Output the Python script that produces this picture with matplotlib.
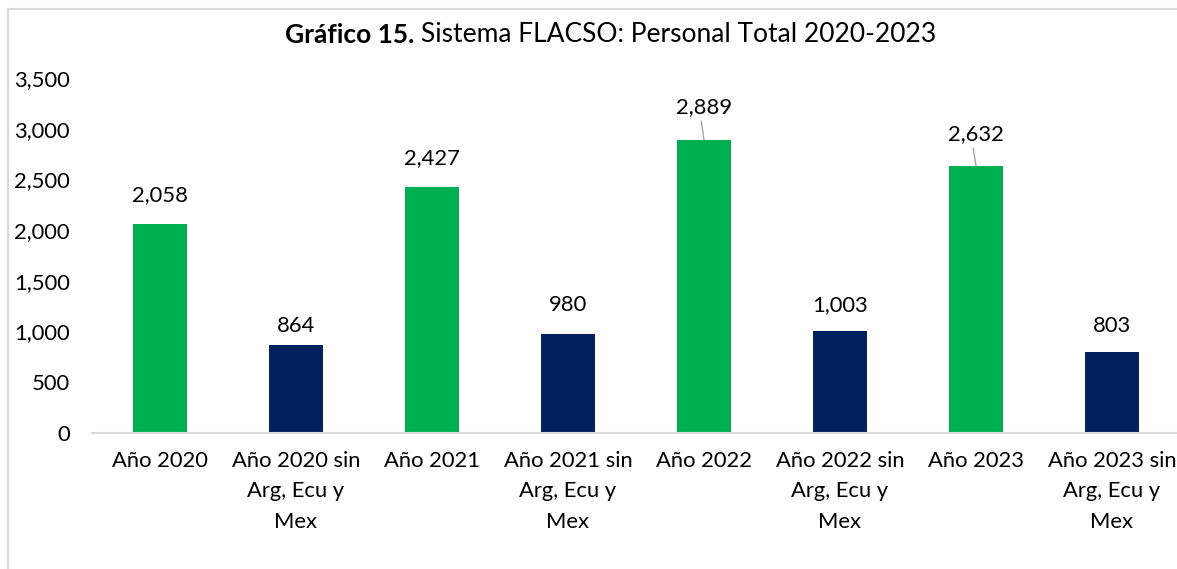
import matplotlib.pyplot as plt
from matplotlib.patches import Rectangle

plt.rcParams['font.family'] = ['Lato', 'DejaVu Sans']

categories = ['Año 2020', 'Año 2020 sin\nArg, Ecu y\nMex', 'Año 2021', 'Año 2021 sin\nArg, Ecu y\nMex',
              'Año 2022', 'Año 2022 sin\nArg, Ecu y\nMex', 'Año 2023', 'Año 2023 sin\nArg, Ecu y\nMex']
values = [2058, 864, 2427, 980, 2889, 1003, 2632, 803]
label_offsets = [288, 191, 284, 282, 325, 259, 316, 252]

green = '#00B050'
navy = '#002060'
colors = [green if i % 2 == 0 else navy for i in range(len(values))]

fig = plt.figure(figsize=(11.77, 5.69), dpi=100)
ax = fig.add_axes([92 / 1177, 136 / 569, 1088 / 1177, 355 / 569])

x = list(range(len(values)))
ax.bar(x, values, width=0.4, color=colors, zorder=2)

fs = 15.8
for i, v in enumerate(values):
    ly = v + label_offsets[i]
    ax.text(i, ly, f'{v:,}', ha='center', va='center', fontsize=fs, color='black')
    # leader lines for the labels that were dragged up
    if label_offsets[i] > 300:
        ax.plot([i - 0.02, i], [ly - 140, v], color='#A6A6A6', lw=1, zorder=1)

ax.set_xlim(-0.5, 7.5)
ax.set_ylim(0, 3500)
ax.set_yticks(range(0, 3501, 500))
ax.set_yticklabels([f'{t:,}' for t in range(0, 3501, 500)], fontsize=fs)
ax.set_xticks(x)
ax.set_xticklabels(categories, fontsize=fs, linespacing=1.65, va='top')
ax.tick_params(axis='both', length=0)
ax.tick_params(axis='y', pad=16)
ax.tick_params(axis='x', pad=13)
for s in ['top', 'right', 'left']:
    ax.spines[s].set_visible(False)
ax.spines['bottom'].set_color('#D9D9D9')
ax.spines['bottom'].set_linewidth(1.5)

# title with bold prefix
fig.text(414 / 1177, 1 - 35 / 569, 'Gráfico 15.', ha='right', va='center',
         fontsize=19, fontweight='bold')
fig.text(421 / 1177, 1 - 35 / 569, 'Sistema FLACSO: Personal Total 2020-2023', ha='left',
         va='center', fontsize=19)

# chart frame (cropped on the right and bottom)
fig.patches.append(Rectangle((8 / 1177, -0.1), 1.2, 1 - 9 / 569 + 0.1, transform=fig.transFigure,
                             fill=False, edgecolor='#D9D9D9', lw=1.5))

fig.savefig('out.png', dpi=100)
